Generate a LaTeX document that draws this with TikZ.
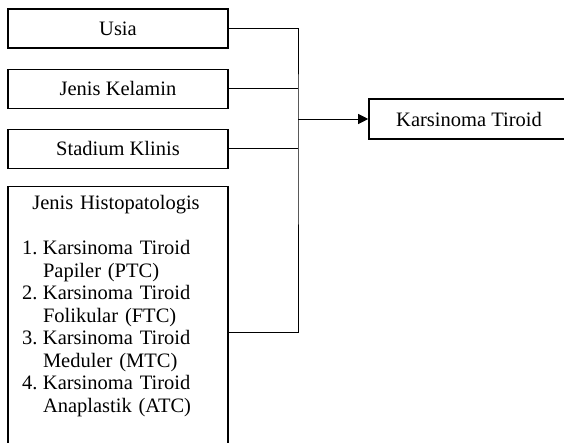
\documentclass[tikz,border=0pt]{standalone}
\usepackage{fontspec}
\setmainfont{Liberation Serif}
\usepackage{tikz}
\usetikzlibrary{positioning}
\usetikzlibrary{arrows.meta}

\newcommand{\butir}[1]{\makebox[21pt][l]{#1}}

\begin{document}
\begin{tikzpicture}[x=1pt, y=1pt,
  every node/.style = {font=\fontsize{20.5}{22.5}\selectfont},
  box/.style = {shape=rectangle, draw, line width=1.2pt,
    minimum width=220pt, minimum height=39pt, inner sep=0pt},
  link/.style = {line width=0.8pt}]
  \useasboundingbox (0,0) rectangle (564,-443);
  \clip (0,0) rectangle (564,-443);
  \node[box] (usia) at (118,-28.5) {Usia};
  \node[box, below=20pt of usia] (kelamin) {Jenis Kelamin};
  \node[box, below=20pt of kelamin] (stadium) {Stadium Klinis};
  \node[box, below=17pt of stadium, align=left, text width=192pt,
    inner xsep=14pt, inner ysep=9pt, text depth=300pt] (histo)
    {\hspace*{-2pt}\centerline{Jenis Histopatologis}\\[22.5pt]
     \butir{1.}Karsinoma Tiroid\\
     \butir{}Papiler (PTC)\\
     \butir{2.}Karsinoma Tiroid\\
     \butir{}Folikular (FTC)\\
     \butir{3.}Karsinoma Tiroid\\
     \butir{}Meduler (MTC)\\
     \butir{4.}Karsinoma Tiroid\\
     \butir{}Anaplastik (ATC)};
  \node[box, line width=1.6pt, minimum width=200pt, minimum height=40pt]
    (karsinoma) at (469,-119) {Karsinoma Tiroid};
  % garis ke kolom penghubung
  \coordinate (bus) at (298,-119);
  \coordinate (histout) at ([yshift=-146pt]histo.north east);
  \draw[link] (usia.east) -| (bus) |- (histout);
  \draw[link] (kelamin.east) -- (kelamin.east -| bus);
  \draw[link] (stadium.east) -- (stadium.east -| bus);
  \draw[link, -{Triangle[length=10pt, width=10pt]}] (bus) -- (karsinoma.west);
\end{tikzpicture}
\end{document}
